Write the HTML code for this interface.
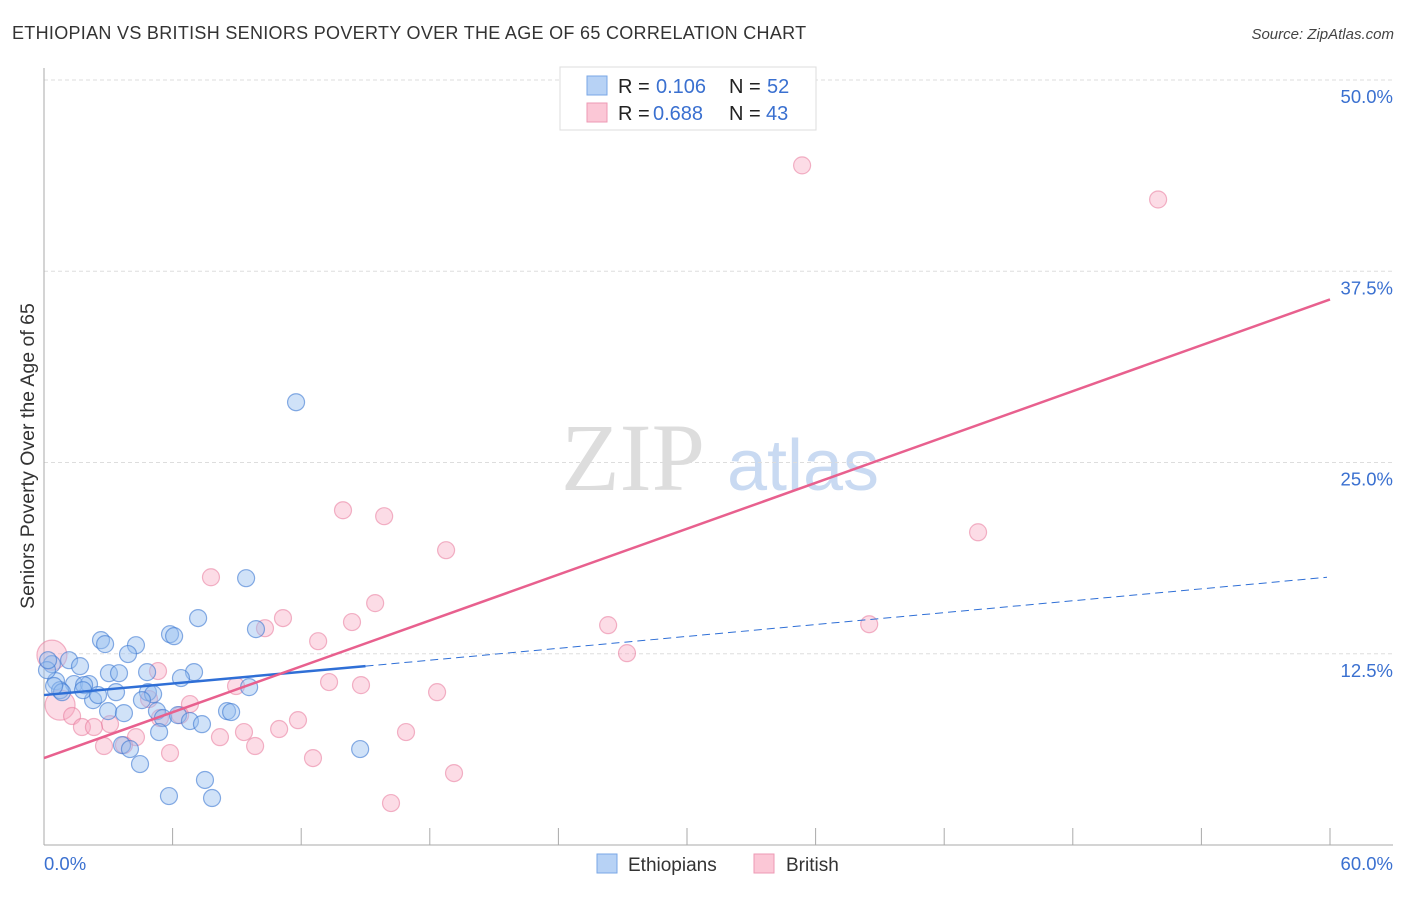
<!DOCTYPE html>
<html><head><meta charset="utf-8"><style>
body{margin:0;background:#fff;font-family:"Liberation Sans",sans-serif;}
</style></head><body>
<svg id="chart" width="1406" height="892" xmlns="http://www.w3.org/2000/svg" font-family="Liberation Sans, sans-serif">
<text x="12" y="39" font-size="18" letter-spacing="0.3" fill="#333">ETHIOPIAN VS BRITISH SENIORS POVERTY OVER THE AGE OF 65 CORRELATION CHART</text>
<text x="1394" y="39" font-size="15" fill="#444" text-anchor="end" font-style="italic">Source: ZipAtlas.com</text>
<g>
<text x="633" y="490" font-size="96" fill="#ddd" font-family="Liberation Serif, serif" text-anchor="middle">ZIP</text>
<text x="803" y="490" font-size="72" fill="#c9daf2" text-anchor="middle">atlas</text>
</g>
<g id="grid"></g><g id="axes"></g><g id="marks"></g>
<g>
<rect x="560" y="67" width="256" height="63" fill="#fff" stroke="#ddd"/>
<rect x="587" y="76" width="20" height="19" fill="#b7d2f5" stroke="#7aa7e6"/>
<rect x="587" y="103" width="20" height="19" fill="#fbc7d6" stroke="#ee9ab4"/>
<text x="618" y="93" font-size="20" fill="#222">R =</text>
<text x="656" y="93" font-size="20" fill="#3a70d0">0.106</text>
<text x="729" y="93" font-size="20" fill="#222">N =</text>
<text x="767" y="93" font-size="20" fill="#3a70d0">52</text>
<text x="618" y="120" font-size="20" fill="#222">R =</text>
<text x="653" y="120" font-size="20" fill="#3a70d0">0.688</text>
<text x="729" y="120" font-size="20" fill="#222">N =</text>
<text x="766" y="120" font-size="20" fill="#3a70d0">43</text>
</g>
<g>
<rect x="597" y="854" width="20" height="19" fill="#b7d2f5" stroke="#7aa7e6"/>
<text x="628" y="871" font-size="19" fill="#333">Ethiopians</text>
<rect x="754" y="854" width="20" height="19" fill="#fbc7d6" stroke="#ee9ab4"/>
<text x="786" y="871" font-size="19" fill="#333">British</text>
</g>
<text transform="translate(34,456) rotate(-90)" font-size="19.5" fill="#333" text-anchor="middle">Seniors Poverty Over the Age of 65</text>
</svg>
<script>
const yTicks=[12.5,25,37.5,50];
const yTickLabels=["12.5%","25.0%","37.5%","50.0%"];
const xTicks=[0,6,12,18,24,30,36,42,48,54,60];
const blueX=[11.76,9.43,7.19,9.89,5.88,6.07,2.66,2.85,4.29,3.92,1.17,1.68,0.37,3.03,3.50,4.81,7.00,6.39,0.56,1.40,2.10,0.75,1.87,9.57,4.85,5.09,3.36,2.29,4.57,5.27,2.99,3.73,8.54,8.73,5.55,6.25,6.81,7.37,5.37,3.64,4.01,14.75,4.48,7.51,5.83,7.84,0.14,0.19,0.84,0.47,1.82,2.52];
const blueY=[28.94,17.44,14.83,14.11,13.78,13.65,13.39,13.13,13.06,12.48,12.08,11.69,11.82,11.23,11.23,11.30,11.30,10.91,10.71,10.52,10.52,10.12,10.45,10.32,9.99,9.86,9.99,9.47,9.47,8.75,8.75,8.62,8.75,8.69,8.30,8.49,8.10,7.90,7.38,6.53,6.27,6.27,5.29,4.25,3.20,3.07,11.43,12.08,9.99,10.39,10.12,9.80];
const pinkX=[35.37,51.98,13.95,15.87,18.76,43.58,7.79,15.45,11.15,10.31,14.37,26.32,38.50,12.79,27.20,5.32,13.30,14.79,8.96,18.34,6.81,4.90,0.37,0.75,1.31,3.08,1.77,2.33,5.41,11.85,10.97,9.33,8.21,4.29,2.80,9.85,16.89,5.88,12.55,19.13,16.19,6.35,3.73];
const pinkY=[44.42,42.19,21.88,21.49,19.27,20.44,17.50,15.81,14.83,14.17,14.57,14.37,14.43,13.32,12.54,11.37,10.65,10.45,10.39,9.99,9.21,9.54,12.41,9.14,8.43,7.90,7.71,7.71,8.30,8.16,7.58,7.38,7.05,7.05,6.47,6.47,7.38,6.01,5.68,4.70,2.74,8.49,6.53];
const pinkSize=[1,1,1,1,1,1,1,1,1,1,1,1,1,1,1,1,1,1,1,1,1,1,2,2,1,1,1,1,1,1,1,1,1,1,1,1,1,1,1,1,1,1,1];
const blueTrend=[9.8,11.69,17.5];
const blueTrendX=[0,15,59.86];
const pinkTrend=[5.68,35.66];
const pinkTrendX=[0,60];
const NS="http://www.w3.org/2000/svg";
const xs=v=>44+v*(1286/60);
const ys=v=>845-v*(765/50);
function mk(t,a,p){const e=document.createElementNS(NS,t);for(const k in a)e.setAttribute(k,a[k]);p.appendChild(e);return e;}
const grid=document.getElementById('grid'),axes=document.getElementById('axes'),marks=document.getElementById('marks');
yTicks.forEach((t,i)=>{
 const l=mk('line',{x1:44,x2:1393,y1:ys(t),y2:ys(t),stroke:'#ddd','stroke-dasharray':'4,3'},grid);
 
 
 const tx=mk('text',{x:1393,y:ys(t)+23,'font-size':18.5,fill:'#3a70d0','text-anchor':'end'},axes);
 tx.textContent=yTickLabels[i];
 
 
});
const ya=mk('line',{x1:44,x2:44,y1:68,y2:845,stroke:'#aaa'},axes);


const xa=mk('line',{x1:44,x2:1393,y1:845,y2:845,stroke:'#aaa'},axes);


xTicks.forEach(t=>{
 const l=mk('line',{x1:xs(t),x2:xs(t),y1:828,y2:845,stroke:'#aaa'},axes);
 
 
});
const xl0=mk('text',{x:44,y:870,'font-size':18.5,fill:'#3a70d0'},axes);xl0.textContent='0.0%';


const xl1=mk('text',{x:1393,y:870,'font-size':18.5,fill:'#3a70d0','text-anchor':'end'},axes);xl1.textContent='60.0%';


pinkX.forEach((v,i)=>{
 const c=mk('circle',{cx:xs(v),cy:ys(pinkY[i]),r:pinkSize[i]>1?15:8.5,fill:'rgba(248,168,192,0.4)',stroke:'rgba(232,120,155,0.55)','stroke-width':1.2},marks);
 
 
});
blueX.forEach((v,i)=>{
 const c=mk('circle',{cx:xs(v),cy:ys(blueY[i]),r:8.5,fill:'rgba(150,190,240,0.45)',stroke:'rgba(60,120,210,0.6)','stroke-width':1.2},marks);
 
 
});
const bl=mk('line',{x1:xs(blueTrendX[0]),y1:ys(blueTrend[0]),x2:xs(blueTrendX[1]),y2:ys(blueTrend[1]),stroke:'#2f6fd6','stroke-width':2.5},marks);


const bd=mk('line',{x1:xs(blueTrendX[1]),y1:ys(blueTrend[1]),x2:xs(blueTrendX[2]),y2:ys(blueTrend[2]),stroke:'#2f6fd6','stroke-width':1,'stroke-dasharray':'8,5'},marks);


const pl=mk('line',{x1:xs(pinkTrendX[0]),y1:ys(pinkTrend[0]),x2:xs(pinkTrendX[1]),y2:ys(pinkTrend[1]),stroke:'#e8608e','stroke-width':2.5},marks);


</script>
</body></html>
